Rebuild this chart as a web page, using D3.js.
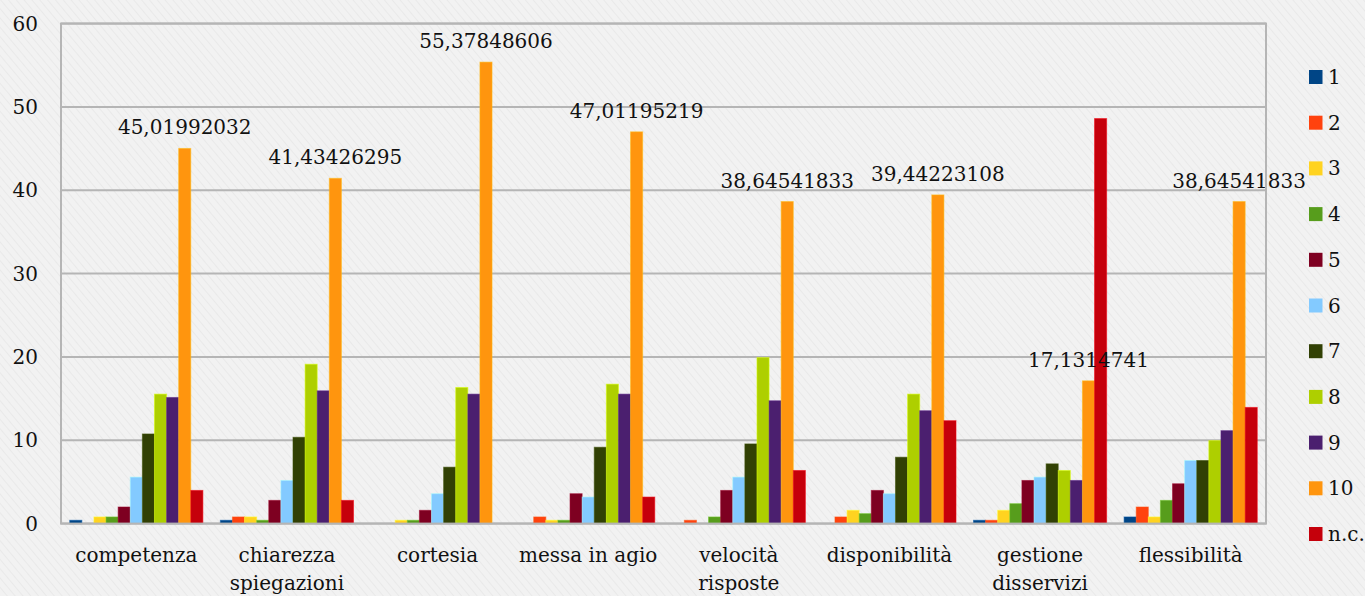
<!DOCTYPE html>
<html>
<head>
<meta charset="utf-8">
<script src="https://cdn.jsdelivr.net/npm/d3@7/dist/d3.min.js"></script>
<style>
  html, body { margin: 0; padding: 0; background: #f1f1f1; }
  svg { display: block; }
</style>
</head>
<body>
<svg id="chart" width="1365" height="596"></svg>
<script>
// Survey aspects (category axis), two-line labels split on "\n"
const categories = [
  "competenza", "chiarezza\nspiegazioni", "cortesia", "messa in agio",
  "velocità\nrisposte", "disponibilità", "gestione\ndisservizi", "flessibilità"
];

// Score classes shown in the legend
const seriesNames = ["1", "2", "3", "4", "5", "6", "7", "8", "9", "10", "n.c."];

const seriesColors = [
  "#004586", "#ff420e", "#ffd320", "#579d1c", "#7e0021", "#83caff",
  "#314004", "#aecf00", "#4b1f6f", "#ff950e", "#c5000b"
];

// Percentage of answers per score, one array per score class (index = category)
const s1  = [0.398, 0.398, 0,     0,     0,      0,     0.398, 0.797];
const s2  = [0,     0.797, 0,     0.797, 0.398,  0.797, 0.398, 1.992];
const s3  = [0.797, 0.797, 0.398, 0.398, 0,      1.594, 1.594, 0.797];
const s4  = [0.797, 0.398, 0.398, 0.398, 0.797,  1.195, 2.390, 2.789];
const s5  = [1.992, 2.789, 1.594, 3.586, 3.984,  3.984, 5.179, 4.781];
const s6  = [5.578, 5.179, 3.586, 3.187, 5.578,  3.586, 5.578, 7.570];
const s7  = [10.757, 10.359, 6.773, 9.163, 9.562, 7.968, 7.171, 7.570];
const s8  = [15.538, 19.124, 16.335, 16.733, 19.920, 15.538, 6.375, 9.960];
const s9  = [15.139, 15.936, 15.538, 15.538, 14.741, 13.546, 5.179, 11.155];
const s10 = [45.01992032, 41.43426295, 55.37848606, 47.01195219,
             38.64541833, 39.44223108, 17.1314741, 38.64541833];
const sNC = [3.984, 2.789, 0, 3.187, 6.375, 12.351, 48.606, 13.944];

const seriesValues = [s1, s2, s3, s4, s5, s6, s7, s8, s9, s10, sNC];

// Tick values of the value axis
const yTicks = [0, 10, 20, 30, 40, 50, 60];

// Only the top score class carries value labels
const labelledSeries = "10";

const FONT = "DejaVu Serif";
const FS = 20;

const svg = d3.select("#chart");
const W = 1365, H = 596;
const plot = { left: 61, right: 1266, top: 23.6, bottom: 523.6 };

// Subtle diagonal paper texture
const defs = svg.append("defs");
const pat = defs.append("pattern")
  .attr("id", "paper").attr("width", 6).attr("height", 6)
  .attr("patternUnits", "userSpaceOnUse")
  .attr("patternTransform", "rotate(-40)");
pat.append("rect").attr("width", 6).attr("height", 6).attr("fill", "#f2f2f2");
pat.append("line").attr("x1", 0).attr("y1", 0).attr("x2", 0).attr("y2", 6)
  .attr("stroke", "#e9e9e9").attr("stroke-width", 2);
svg.append("rect").attr("width", W).attr("height", H).attr("fill", "url(#paper)");

const x0 = d3.scaleBand()
  .domain(d3.range(categories.length))
  .range([plot.left, plot.right])
  .paddingInner(0.116)
  .paddingOuter(0.058);

const x1 = d3.scaleBand()
  .domain(seriesNames)
  .range([0, x0.bandwidth()])
  .padding(0);

const y = d3.scaleLinear().domain([0, 60]).range([plot.bottom, plot.top]);

// Horizontal gridlines
svg.append("g").selectAll("line")
  .data(yTicks)
  .join("line")
  .attr("x1", plot.left).attr("x2", plot.right)
  .attr("y1", d => y(d)).attr("y2", d => y(d))
  .attr("stroke", "#b5b5b5").attr("stroke-width", 2);

// Y axis labels
const yAxis = d3.axisLeft(y).tickValues(yTicks).tickSize(0).tickPadding(23)
  .tickFormat(d3.format("d"));
const gy = svg.append("g").attr("transform", `translate(${plot.left},0)`).call(yAxis);
gy.select(".domain").remove();
gy.attr("font-family", FONT).attr("font-size", FS);
gy.selectAll("text").attr("fill", "#111");

// Bars
const groups = svg.append("g").selectAll("g")
  .data(categories.map((c, i) => i))
  .join("g")
  .attr("transform", i => `translate(${x0(i)},0)`);

groups.selectAll("rect")
  .data(i => seriesNames.map((s, k) => ({ key: s, value: seriesValues[k][i], color: seriesColors[k] })))
  .join("rect")
  .filter(d => d.value > 0)
  .attr("x", d => x1(d.key))
  .attr("y", d => y(d.value))
  .attr("width", x1.bandwidth())
  .attr("height", d => y(0) - y(d.value))
  .attr("fill", d => d.color)
  .attr("stroke", d => d3.color(d.color).brighter(0.6))
  .attr("stroke-opacity", 0.55)
  .attr("stroke-width", 1);

// Value labels above the top score class bars
const fmt = v => String(v).replace(".", ",");
groups.append("text")
  .attr("x", x1(labelledSeries) + x1.bandwidth() / 2)
  .attr("y", i => y(s10[i]) - 14)
  .attr("text-anchor", "middle")
  .attr("font-family", FONT)
  .attr("font-size", FS)
  .attr("fill", "#111")
  .text(i => fmt(s10[i]));

// Plot frame
svg.append("rect")
  .attr("x", plot.left).attr("y", plot.top)
  .attr("width", plot.right - plot.left).attr("height", plot.bottom - plot.top)
  .attr("fill", "none").attr("stroke", "#b5b5b5").attr("stroke-width", 2);

// Category labels
const xl = svg.append("g").selectAll("text")
  .data(categories)
  .join("text")
  .attr("x", (d, i) => x0(i) + x0.bandwidth() / 2)
  .attr("y", 562)
  .attr("text-anchor", "middle")
  .attr("font-family", FONT)
  .attr("font-size", FS)
  .attr("fill", "#111");
xl.selectAll("tspan")
  .data(d => d.split("\n"))
  .join("tspan")
  .attr("x", function () { return d3.select(this.parentNode).attr("x"); })
  .attr("dy", (d, j) => j === 0 ? 0 : 28)
  .text(d => d);

// Legend
const legend = svg.append("g").selectAll("g")
  .data(seriesNames)
  .join("g")
  .attr("transform", (d, k) => `translate(1309,${77 + k * 45.7})`);
legend.append("rect")
  .attr("x", 0).attr("y", -7).attr("width", 13.5).attr("height", 14)
  .attr("fill", (d, k) => seriesColors[k]);
legend.append("text")
  .attr("x", 19).attr("y", 0).attr("dy", "0.35em")
  .attr("font-family", FONT)
  .attr("font-size", FS)
  .attr("fill", "#111")
  .text(d => d);
</script>
</body>
</html>
